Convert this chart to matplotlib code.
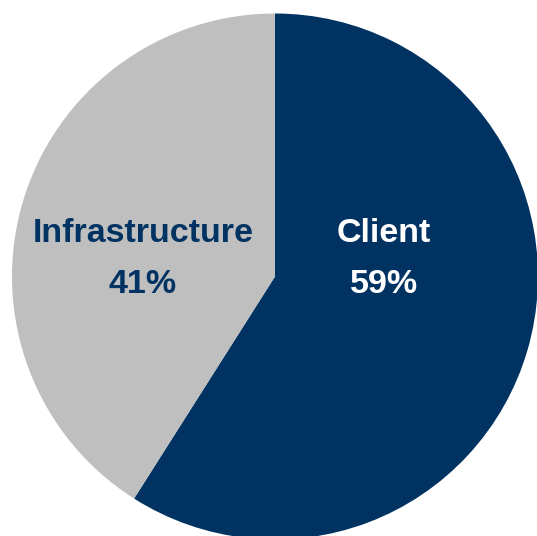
import matplotlib.pyplot as plt

# Share of spend by segment
segments = ["Client", "Infrastructure"]
shares = [59, 41]
colors = ["#003362", "#BFBFBF"]
text_colors = ["white", "#003362"]

W, H = 537, 536
fig = plt.figure(figsize=(W / 100, H / 100), dpi=100)
ax = fig.add_axes([0, 0, 1, 1])

# pie drawn in pixel units so it can run off the right and bottom edges
ax.pie(shares, colors=colors, startangle=90, counterclock=False,
       center=(275, 259.5), radius=263, wedgeprops=dict(linewidth=0))

# pie() resets the limits, so set them afterwards
ax.set_xlim(0, W)
ax.set_ylim(0, H)
ax.set_aspect("equal")
ax.axis("off")

# label x, name baseline, percent baseline
label_pos = [(384, H - 242, H - 293), (143, H - 242, H - 293)]
for name, val, tc, (x, y1, y2) in zip(segments, shares, text_colors, label_pos):
    ax.text(x, y1, name, ha="center", va="baseline", color=tc,
            fontsize=24.5, fontweight="bold", family="Liberation Sans")
    ax.text(x, y2, f"{val}%", ha="center", va="baseline", color=tc,
            fontsize=24.5, fontweight="bold", family="Liberation Sans")

fig.savefig("out.png", dpi=100)
